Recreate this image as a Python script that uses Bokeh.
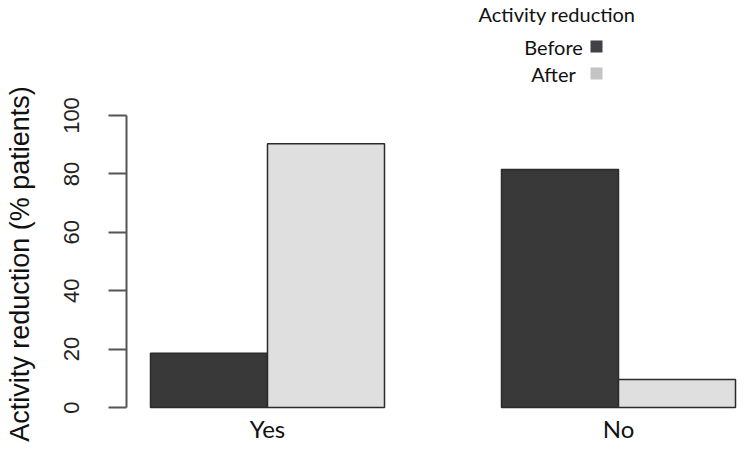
from bokeh.plotting import figure
from bokeh.layouts import column
from bokeh.models import ColumnDataSource, Range1d, FixedTicker
from bokeh.embed import file_html
from bokeh.resources import INLINE
from bokeh.core.properties import value

# ---- data ----
groups = ["Yes", "No"]
series = ["Before", "After"]
before = [18.6, 81.5]
after = [90.3, 9.6]
y_ticks = [0, 20, 40, 60, 80, 100]
legend_title = "Activity reduction"
y_title = "Activity reduction (% patients)"

# ---- style ----
bar_colors = {"Before": "#393939", "After": "#dfdfdf"}
legend_colors = {"Before": "#404046", "After": "#c4c4c4"}

W = 738
LEG_H = 84
MAIN_H = 452 - LEG_H
frame_left = 126
TXT_SHIFT = 7   # Lato baseline correction observed in rendering

# ---------------- legend strip (pixel space) ----------------
leg = figure(width=W, height=LEG_H, output_backend="svg", toolbar_location=None,
             x_range=Range1d(frame_left, W), y_range=Range1d(LEG_H, 0),
             x_axis_type=None, y_axis_type=None,
             min_border_left=frame_left, min_border_right=0, min_border_top=0,
             min_border_bottom=0)
leg.outline_line_color = None
leg.grid.visible = False
leg.text(x=[478], y=[20 - TXT_SHIFT], text=[legend_title], text_font=value("Lato"),
         text_font_size="20px", text_align="left", text_baseline="alphabetic",
         text_color="#111111")
leg_rows = [46, 73]   # swatch centres (px)
leg.text(x=[553] * len(series), y=[r + 7 - TXT_SHIFT for r in leg_rows], text=series,
         text_font=value("Lato"), text_font_size="20px", text_align="center",
         text_baseline="alphabetic", text_color="#111111")
leg.scatter(x=[596] * len(series), y=leg_rows, marker="square", size=12,
            fill_color=[legend_colors[s] for s in series], line_color=None)

# ---------------- main bar chart ----------------
frame_top = 114 - LEG_H
frame_bottom = 413 - LEG_H
x_start, x_end = 0.7949, 6.0256
y_start, y_end = -2.05, 100.34

vals = {"Before": before, "After": after}
xs, tops, fills = [], [], []
for gi, g in enumerate(groups):
    for si, s in enumerate(series):
        left = 1 + gi * (len(series) + 1) + si
        xs.append(left + 0.5)
        tops.append(vals[s][gi])
        fills.append(bar_colors[s])
group_centers = [1 + gi * (len(series) + 1) + len(series) / 2 for gi in range(len(groups))]

src = ColumnDataSource(dict(x=xs, top=tops, fill=fills))

p = figure(width=W, height=MAIN_H, output_backend="svg", toolbar_location=None,
           x_range=Range1d(x_start, x_end), y_range=Range1d(y_start, y_end),
           min_border_left=frame_left, min_border_right=0, min_border_top=frame_top,
           min_border_bottom=MAIN_H - frame_bottom)
p.outline_line_color = None
p.grid.visible = False
p.background_fill_color = "white"
p.border_fill_color = "white"

p.vbar(x="x", top="top", bottom=0, width=1.0, source=src, fill_color="fill",
       line_color="#2b2b2b", line_width=1.5)

ya = p.yaxis[0]
ya.ticker = FixedTicker(ticks=y_ticks)
ya.bounds = (0, 100)
ya.axis_line_color = "#555555"
ya.axis_line_width = 2
ya.major_tick_line_color = "#555555"
ya.major_tick_line_width = 2
ya.major_tick_in = 0
ya.major_tick_out = 18
ya.minor_tick_line_color = None
ya.major_label_orientation = "parallel"
ya.major_label_text_font = "Liberation Sans"
ya.major_label_text_font_size = "22px"
ya.major_label_text_color = "#222222"
ya.major_label_standoff = 29
ya.axis_label = y_title
ya.axis_label_text_font = "Liberation Sans"
ya.axis_label_text_font_size = "27px"
ya.axis_label_text_font_style = "normal"
ya.axis_label_text_color = "#111111"
ya.axis_label_standoff = 27

xa = p.xaxis[0]
xa.ticker = FixedTicker(ticks=group_centers)
xa.major_label_overrides = {c: g for c, g in zip(group_centers, groups)}
xa.axis_line_color = None
xa.major_tick_line_color = None
xa.major_tick_out = 0
xa.minor_tick_line_color = None
xa.major_label_text_font = "Lato"
xa.major_label_text_font_size = "24px"
xa.major_label_text_color = "#111111"
xa.major_label_standoff = 0

layout = column(leg, p, spacing=0)
open("out.html", "w").write(file_html(layout, INLINE))
